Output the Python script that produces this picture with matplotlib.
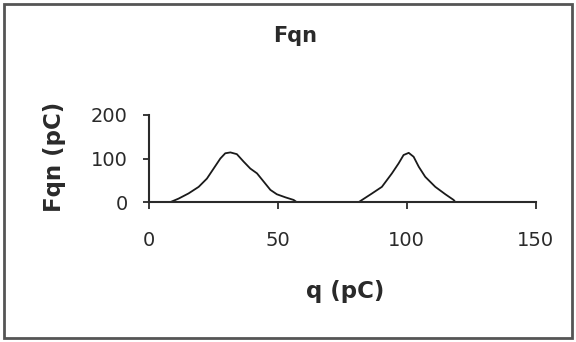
import matplotlib.pyplot as plt
from matplotlib.patches import Rectangle

plt.rcParams['font.family'] = ['DejaVu Sans']

# first peak
q1 = [0, 8.4, 11.6, 15.5, 19.4, 22.6, 25.2, 27.8, 29.7, 31.7, 34.2, 36.8, 39.4, 42.0, 44.6, 47.2, 49.7, 53.0, 56.2, 57.4]
f1 = [0, 0, 8, 20, 35, 54, 77, 100, 112, 114, 110, 93, 77, 66, 47, 28, 18, 11, 5, 0]
# second peak
q2 = [81.4, 86.6, 90.4, 94.3, 96.9, 98.8, 100.8, 102.7, 104.7, 107.2, 111.1, 115.0, 118.2, 118.9, 120.0]
f2 = [0, 20, 35, 66, 89, 108, 113, 104, 81, 58, 35, 18, 5, 0, 0]

xticks = [0, 50, 100, 150]
yticks = [0, 100, 200]

txt = '#2a2a2a'

fig = plt.figure(figsize=(5.76, 3.42), dpi=100)
ax = fig.add_axes([0.258, 0.409, 0.672, 0.255])

ax.plot(q1 + q2, f1 + f2, color='#1a1a1a', linewidth=1.3)

ax.set_xlim(0, 150)
ax.set_ylim(0, 200)
ax.set_xticks(xticks)
ax.set_yticks(yticks)
ax.tick_params(labelsize=14, length=4, width=1.3, colors=txt)
ax.tick_params(axis='y', pad=11)
ax.tick_params(axis='x', pad=16, length=5)
ax.spines['right'].set_visible(False)
ax.spines['top'].set_visible(False)
for s in ['left', 'bottom']:
    ax.spines[s].set_linewidth(1.5)
    ax.spines[s].set_color(txt)

fig.text(0.512, 0.895, "Fqn", ha='center', va='center', fontsize=15, fontweight='bold', color=txt)
fig.text(0.599, 0.147, "q (pC)", ha='center', va='center', fontsize=16.5, fontweight='bold', color=txt)
fig.text(0.095, 0.54, "Fqn (pC)", ha='center', va='center', rotation=90, fontsize=16.5, fontweight='bold', color=txt)

fig.patches.append(Rectangle((0.007, 0.012), 0.986, 0.976, transform=fig.transFigure,
                             fill=False, edgecolor='#555555', linewidth=2))

plt.savefig("out.png", dpi=100)
